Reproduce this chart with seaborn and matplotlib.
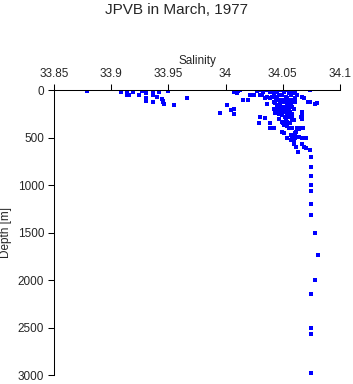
import matplotlib
matplotlib.use('Agg')
import matplotlib.pyplot as plt
import seaborn as sns
import pandas as pd

# salinity / depth pairs
salinity = [
    33.879, 33.909, 33.914, 33.914, 33.916, 33.919, 33.924, 33.927, 33.930, 33.930,
    33.930, 33.9365, 33.9365, 33.9365, 33.940, 33.942, 33.944, 33.945, 33.945, 33.946,
    33.950, 33.955, 33.9665,
    33.995, 34.001, 34.005, 34.007, 34.007, 34.007, 34.010, 34.011, 34.013, 34.0155,
    34.020, 34.0215, 34.0235, 34.0225, 34.0245, 34.030, 34.0275, 34.030, 34.033, 34.036,
    34.032, 34.0348, 34.036, 34.039, 34.0405, 34.0435, 34.045, 34.039, 34.042, 34.045,
    34.0465, 34.042, 34.0435, 34.045, 34.048, 34.036, 34.042, 34.045, 34.048, 34.051,
    34.0435, 34.0465, 34.048, 34.0495, 34.054, 34.057, 34.058, 34.030, 34.0345, 34.039,
    34.039, 34.042, 34.0465, 34.0495, 34.0525, 34.054, 34.058, 34.0595, 34.029, 34.051,
    34.054, 34.0555, 34.058, 34.0495, 34.051, 34.048, 34.051, 34.054, 34.0555, 34.057,
    34.0595, 34.061, 34.0495, 34.0525, 34.054, 34.057, 34.061, 34.0625, 34.051, 34.054,
    34.057, 34.061, 34.0525, 34.0555, 34.0595, 34.067, 34.0685, 34.0725, 34.074, 34.0785,
    34.080, 34.0735, 34.067, 34.067, 34.066, 34.067, 34.0625, 34.064, 34.0655, 34.068,
    34.061, 34.0595, 34.061, 34.058, 34.061, 34.064, 34.067, 34.070, 34.054, 34.057,
    34.0595, 34.0595, 34.062, 34.067, 34.0685, 34.070, 34.063, 34.0735, 34.0745, 34.0745,
    34.0745, 34.0745, 34.0745, 34.0745, 34.0745, 34.078, 34.081, 34.078, 34.0745, 34.0745,
    34.0745, 34.0745,
    34.044, 34.047, 34.050, 34.053, 34.056, 34.059, 34.046, 34.049, 34.052, 34.055,
    34.058, 34.0445, 34.0475, 34.0505, 34.0535, 34.0565, 34.052, 34.055, 34.058, 34.050,
    34.053, 34.056, 34.0615, 34.060, 34.057,
]
depth = [
    7, 17, 30, 50, 55, 20, 55, 5, 35, 88,
    112, 35, 55, 130, 77, 20, 98, 110, 130, 147,
    5, 158, 80,
    242, 158, 207, 256, 197, 18, 35, 10, 0, 105,
    105, 56, 56, 53, 53, 53, 7, 0, 18, 0,
    50, 87, 77, 87, 77, 70, 87, 18, 35, 18,
    53, 123, 140, 158, 140, 147, 203, 203, 210, 203,
    245, 256, 245, 263, 245, 263, 256, 287, 298, 350,
    403, 403, 308, 333, 308, 333, 308, 315, 350, 368,
    379, 403, 403, 439, 456, 0, 18, 0, 35, 18,
    0, 35, 53, 70, 87, 53, 87, 53, 123, 140,
    140, 123, 203, 210, 203, 70, 87, 130, 130, 147,
    140, 0, 228, 263, 280, 308, 403, 414, 403, 403,
    456, 474, 491, 509, 509, 498, 509, 502, 509, 526,
    544, 569, 603, 572, 597, 608, 656, 635, 708, 807,
    905, 1003, 1063, 1203, 1316, 1509, 1740, 2003, 2150, 2502,
    2565, 2979,
    105, 105, 105, 105, 105, 105, 175, 175, 175, 175,
    175, 228, 228, 228, 228, 228, 280, 280, 280, 350,
    350, 350, 440, 470, 470,
]

x_ticks = [33.85, 33.9, 33.95, 34.0, 34.05, 34.1]
x_ticklabels = ['33.85', '33.9', '33.95', '34', '34.05', '34.1']
y_ticks = [0, 500, 1000, 1500, 2000, 2500, 3000]

df = pd.DataFrame({'Salinity': salinity, 'Depth': depth})

sns.set_theme(style='ticks')
plt.rcParams['font.family'] = ['Liberation Sans', 'DejaVu Sans']

fig = plt.figure(figsize=(3.53, 3.84), dpi=100)
ax = fig.add_axes([0.153, 0.0234, 0.810, 0.742])
sns.scatterplot(data=df, x='Salinity', y='Depth', ax=ax, marker='s', s=7,
                color='#0000ff', linewidth=0)

ax.set_xlim(33.85, 34.1)
ax.set_ylim(3000, 0)
ax.xaxis.tick_top()
ax.xaxis.set_label_position('top')
ax.set_xticks(x_ticks)
ax.set_xticklabels(x_ticklabels)
ax.set_yticks(y_ticks)
ax.set_xlabel('Salinity', fontsize=8.5, labelpad=3)
ax.set_ylabel('Depth [m]', fontsize=8.5, labelpad=4)
ax.tick_params(labelsize=8.5, length=4, width=0.75, color='black', pad=3)
for side in ['right', 'bottom']:
    ax.spines[side].set_visible(False)
for side in ['left', 'top']:
    ax.spines[side].set_linewidth(0.75)
    ax.spines[side].set_color('black')

fig.text(0.5, 0.974, 'JPVB in March, 1977', ha='center', va='center', fontsize=11)

fig.savefig('out.png', dpi=100)
